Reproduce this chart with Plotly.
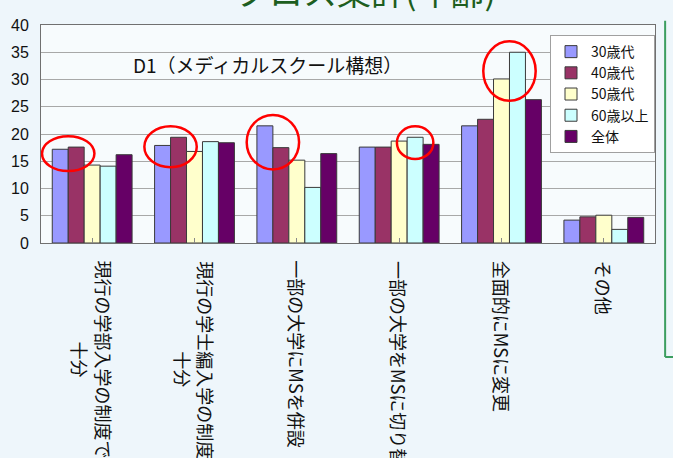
import plotly.graph_objects as go

categories = [
    "現行の学部入学の制度で<br>十分",
    "現行の学士編入学の制度で<br>十分",
    "一部の大学にMSを併設",
    "一部の大学をMSに切り替え",
    "全面的にMSに変更",
    "その他",
]
series_names = ["30歳代", "40歳代", "50歳代", "60歳以上", "全体"]
v30 = [17.2, 17.9, 21.5, 17.6, 21.5, 4.2]
v40 = [17.6, 19.4, 17.5, 17.6, 22.7, 4.8]
v50 = [14.3, 16.8, 15.2, 18.7, 30.1, 5.1]
v60 = [14.1, 18.6, 10.2, 19.4, 35.0, 2.5]
vall = [16.2, 18.4, 16.4, 18.1, 26.3, 4.7]
series_values = [v30, v40, v50, v60, vall]
colors = ["#9999FF", "#993366", "#FFFFCC", "#CCFFFF", "#660066"]
y_ticks = [0, 5, 10, 15, 20, 25, 30, 35, 40]

# highlighted (category index, series indices) pairs marked with red ellipses
highlights = [(0, [0, 1]), (1, [0, 1]), (2, [0, 1]), (3, [3]), (4, [2, 3])]

slide_title = "クロス集計(年齢)"
chart_title = "D1（メディカルスクール構想）"

BARGAP = 0.22
nser = len(series_names)
bw = (1 - BARGAP) / nser

fig = go.Figure()
for name, vals, col in zip(series_names, series_values, colors):
    fig.add_trace(go.Bar(
        name=name, x=list(range(len(categories))), y=vals,
        marker=dict(color=col, line=dict(color="#3A3A3A", width=1)),
    ))

shapes = []
for ci, sis in highlights:
    left = ci - (1 - BARGAP) / 2 + bw * min(sis) - 0.1
    right = ci - (1 - BARGAP) / 2 + bw * (max(sis) + 1) + 0.1
    vals = [series_values[s][ci] for s in sis]
    shapes.append(dict(type="circle", xref="x", yref="y",
                       x0=left, x1=right, y0=min(vals) - 4, y1=max(vals) + 2,
                       line=dict(color="#FF0000", width=2.5)))

# green frame on the right
shapes.append(dict(type="line", xref="paper", yref="paper", x0=1.0165, x1=1.0165,
                   y0=1.02, y1=-0.523, line=dict(color="#3C9E60", width=2)))
shapes.append(dict(type="line", xref="paper", yref="paper", x0=1.0165, x1=1.06,
                   y0=-0.523, y1=-0.523, line=dict(color="#3C9E60", width=2)))

annotations = []
for i, c in enumerate(categories):
    annotations.append(dict(x=i, y=-0.072, xref="x", yref="paper", text=c,
                            showarrow=False, textangle=90, align="center",
                            xanchor="center", yanchor="top",
                            font=dict(family="Noto Sans CJK JP", size=18, color="#111111")))
annotations.append(dict(x=0.369, y=0.821, xref="paper", yref="paper", text=chart_title,
                        showarrow=False, xanchor="center", yanchor="middle",
                        font=dict(family="Noto Sans CJK JP", size=19, color="#111111")))
annotations.append(dict(x=0.528, y=1.038, xref="paper", yref="paper", text=slide_title,
                        showarrow=False, xanchor="center", yanchor="bottom",
                        font=dict(family="Noto Sans CJK JP", size=34, color="#1D5E20")))

fig.update_layout(
    width=673, height=458,
    margin=dict(l=41, r=18, t=25, b=215, autoexpand=False),
    paper_bgcolor="#EEF6FB",
    plot_bgcolor="#F7FBFD",
    barmode="group", bargap=BARGAP, bargroupgap=0,
    showlegend=True,
    legend=dict(x=1, y=0.954, xanchor="right", yanchor="top",
                bgcolor="#FFFFFF", bordercolor="#A0A0A0", borderwidth=1,
                font=dict(family="Noto Sans CJK JP", size=14, color="#111111"),
                itemwidth=30, tracegroupgap=0),
    shapes=shapes,
    annotations=annotations,
)
fig.update_xaxes(
    range=[-0.5, len(categories) - 0.5], tickmode="array",
    tickvals=list(range(len(categories))), showticklabels=False,
    ticks="inside", tickson="boundaries", ticklen=5, tickcolor="#888888",
    showline=True, linecolor="#707070", linewidth=1, mirror=True,
    showgrid=False, zeroline=False,
)
fig.update_yaxes(
    range=[0, 40], tickmode="array", tickvals=y_ticks,
    ticktext=[str(t) for t in y_ticks],
    showgrid=True, gridcolor="#A8A8A8", gridwidth=1,
    showline=True, linecolor="#707070", linewidth=1, mirror=True,
    zeroline=False, ticks="", ticklabelstandoff=8,
    tickfont=dict(family="Liberation Sans", size=16, color="#111111"),
)

fig.write_html("out.html", config={"displayModeBar": False},
               post_script="document.body.style.margin='0px';document.body.style.overflow='hidden';")
